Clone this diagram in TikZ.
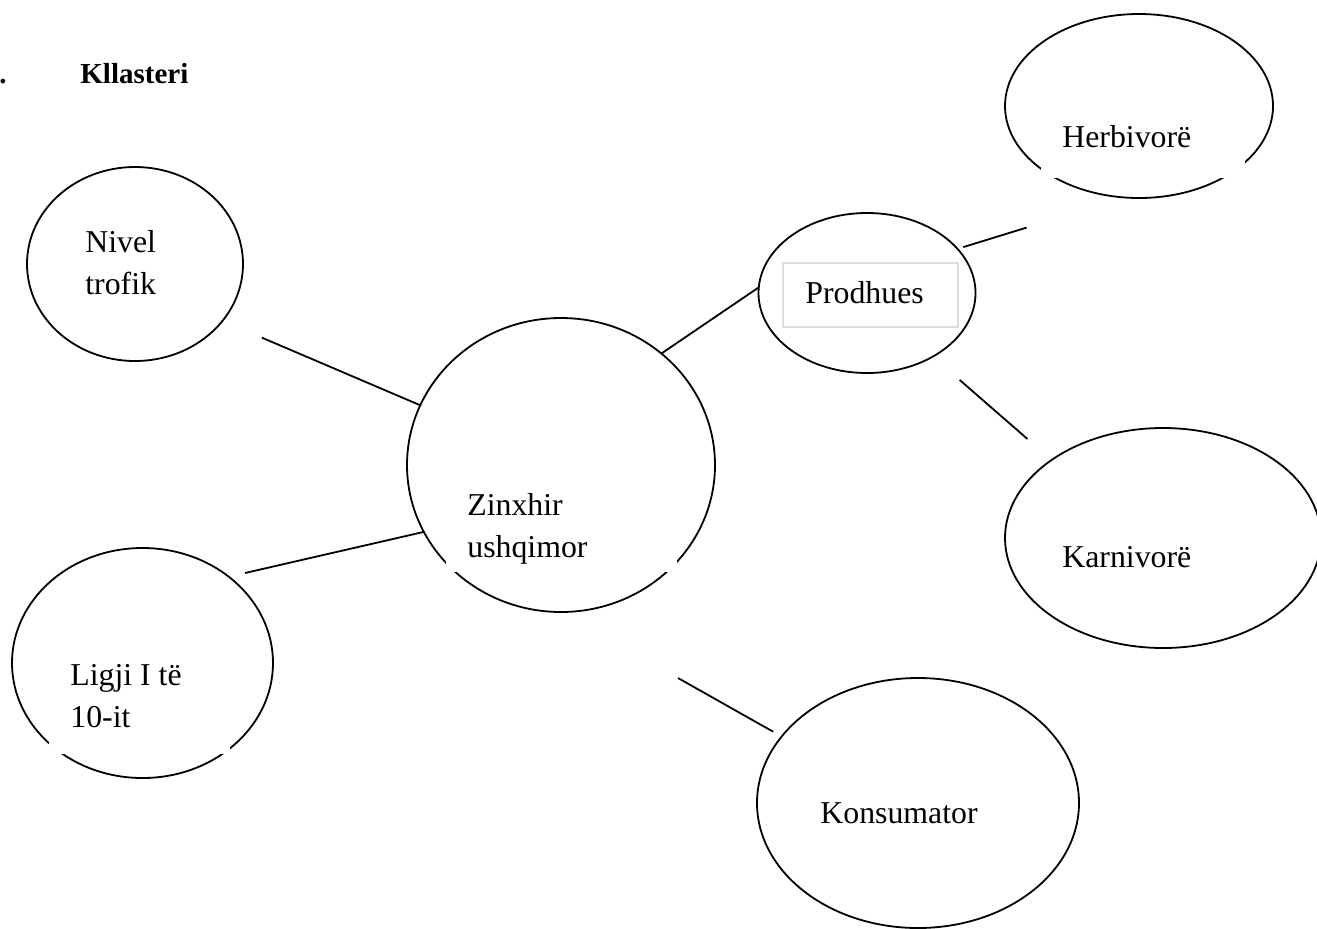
\documentclass[tikz,border=0pt]{standalone}
\usepackage{fontspec}
\setmainfont{Liberation Serif}
\usetikzlibrary{shapes.geometric}
\definecolor{boxgray}{HTML}{DDDDDD}
\tikzset{
  bubble/.style={draw,ellipse,line width=.9pt,inner sep=0pt,outer sep=0pt},
  lbl/.style={font=\fontsize{15.9}{21}\selectfont,inner sep=0pt,anchor=base west,align=left},
  link/.style={line width=.9pt},
  mask/.style={fill=white}
}
\begin{document}
\begin{tikzpicture}[x=.5pt,y=-.5pt]
\useasboundingbox (0,0) rectangle (1317,928);
% title
\node[font=\fontsize{14.5}{18}\selectfont\bfseries,inner sep=0pt,anchor=base west] (dot) at (-1,83) {.};
\node[font=\fontsize{14.5}{18}\selectfont\bfseries,inner sep=0pt,anchor=base west] (title) at (80,83) {Kllasteri};
% bubbles
\node[bubble,minimum width=108pt,minimum height=97pt] (nivel) at (135,264) {};
\node[bubble,minimum width=154pt,minimum height=147pt] (zinx) at (561,465) {};
\node[bubble,minimum width=108.5pt,minimum height=80pt] (prod) at (867,293) {};
\node[bubble,minimum width=134pt,minimum height=92pt] (herb) at (1139,106) {};
\node[bubble,minimum width=158pt,minimum height=110pt] (karn) at (1163,538) {};
\node[bubble,minimum width=161pt,minimum height=125pt] (kons) at (918,803) {};
\node[bubble,minimum width=130.5pt,minimum height=115pt] (ligji) at (142.5,663) {};
% text boxes cutting the outlines
\fill[mask] (1041,110) rectangle (1245,178);
\fill[mask] (446,470) rectangle (677,572);
\fill[mask] (49,640) rectangle (230,754);
\draw[boxgray,fill=white,line width=.8pt] (783,263) rectangle (958,327);
% labels (base = last line)
\node[lbl] (tnivel) at (85,294) {Nivel\\trofik};
\node[lbl] (tzinx) at (467,557) {Zinxhir\\ushqimor};
\node[lbl] (tprod) at (805,303) {Prodhues};
\node[lbl] (therb) at (1062,147) {Herbivorë};
\node[lbl] (tkarn) at (1062,567) {Karnivorë};
\node[lbl] (tligji) at (70,727) {Ligji I të\\10-it};
\node[lbl] (tkons) at (820,823) {Konsumator};
% links
\draw[link,shorten <=21.4pt] (nivel.-33) -- (zinx.157);
\draw[link,shorten <=8.3pt] (ligji.45) -- (zinx.206);
\draw[link] (zinx.48) -- (prod.177);
\draw[link,shorten <=3pt,shorten >=51.2pt] (prod.26) -- (herb.261);
\draw[link,shorten <=17.8pt,shorten >=16pt] (prod.-44) -- (karn.145);
\draw[link,shorten <=67.2pt,shorten >=4.9pt] (zinx.-90) -- (kons.154);
\end{tikzpicture}
\end{document}
